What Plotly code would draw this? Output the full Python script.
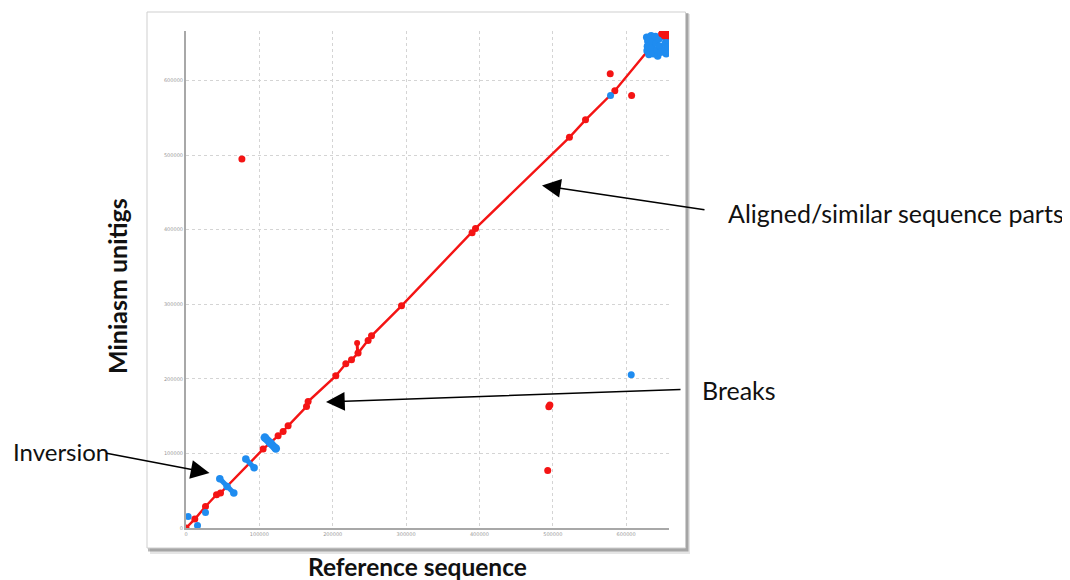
import plotly.graph_objects as go

# ---------------- data (bp coordinates) ----------------
# main red alignment (reference position vs unitig position)
red_x = [0, 12000, 26580, 41580, 47030, 105100, 125550, 132370, 139180, 164270,
         166450, 204210, 217840, 225610, 234610, 248240, 252870, 293770, 390000,
         394650, 522650, 544600, 584540, 648600]
red_y = [0, 11930, 28830, 44510, 46790, 105790, 123620, 129390, 137030, 162910,
         169610, 204070, 220160, 225520, 234510, 251400, 257700, 297920, 396000,
         401700, 523850, 547310, 586200, 662600]

# small red off-line piece
red_seg_x = [234000, 233250]
red_seg_y = [234510, 247910]

# isolated red matches
red_off_x = [76200, 494570, 496000, 493070, 578270, 607440]
red_off_y = [494620, 162500, 165000, 77100, 609120, 579890]

# red tip at the end of the diagonal
red_tip_x = [648600, 652000, 654000, 656800]
red_tip_y = [662600, 660000, 665300, 659900]

# blue (reverse) matches: inversions crossing the diagonal
blue_seg_x = [46080, 56030, 65160, None, 81520, 92830]
blue_seg_y = [65970, 55640, 46790, None, 92380, 80720]
blue_wide_x = [107420, 115000, 122420]
blue_wide_y = [121340, 114000, 106590]

# isolated blue matches
blue_pt_x = [2860, 15680, 26580, 578700, 606900]
blue_pt_y = [15420, 3350, 20780, 579900, 205410]

# blue cluster at the end of the sequences
blue_cl_x = [628000, 629500, 629000, 628500, 631000, 634000, 636000, 635000, 637000,
             640000, 641000, 642000, 643000, 645000, 646000, 647000,
             653000, 653500, 654000, 654500, 656500, 657000]
blue_cl_y = [658000, 653000, 646000, 640000, 635000, 660000, 652000, 644000, 636000,
             659000, 650000, 641000, 633000, 656000, 646000, 638000,
             658000, 650000, 642000, 636000, 655000, 645000]

x_ticks = [0, 100000, 200000, 300000, 400000, 500000, 600000]
y_ticks = [0, 100000, 200000, 300000, 400000, 500000, 600000]
x_tick_text = ["0", "100000", "200000", "300000", "400000", "500000", "600000"]
y_tick_text = ["0", "100000", "200000", "300000", "400000", "500000", "600000"]

RED = "#f41414"
BLUE = "#1f8cf0"

# ---------------- layout geometry ----------------
OFF = 8                      # page body margin in the browser
W_FIG, H_FIG = 1062, 572
L, T = 186 - OFF, 31 - OFF   # plot area top-left in figure pixels
PW, PH = 483, 497
R = W_FIG - L - PW
B = H_FIG - T - PH
X_MAX = PW / 73.36 * 1e5
Y_MAX = PH / 74.58 * 1e5


def px(xs):
    """screen x pixel -> paper x"""
    return (xs - OFF - L) / PW


def py(ys):
    """screen y pixel -> paper y"""
    return (T + PH - (ys - OFF)) / PH


fig = go.Figure()

fig.add_trace(go.Scatter(x=red_x, y=red_y, mode="lines+markers",
                         line=dict(color=RED, width=2.4),
                         marker=dict(color=RED, size=7), hoverinfo="skip"))
fig.add_trace(go.Scatter(x=red_seg_x, y=red_seg_y, mode="lines+markers",
                         line=dict(color=RED, width=3),
                         marker=dict(color=RED, size=6), hoverinfo="skip"))
fig.add_trace(go.Scatter(x=red_off_x, y=red_off_y, mode="markers",
                         marker=dict(color=RED, size=7), hoverinfo="skip"))
fig.add_trace(go.Scatter(x=blue_cl_x, y=blue_cl_y, mode="markers",
                         marker=dict(color=BLUE, size=7.5), hoverinfo="skip"))
fig.add_trace(go.Scatter(x=red_tip_x, y=red_tip_y, mode="markers",
                         marker=dict(color=RED, size=7), hoverinfo="skip"))
fig.add_trace(go.Scatter(x=blue_seg_x, y=blue_seg_y, mode="lines+markers",
                         line=dict(color=BLUE, width=5),
                         marker=dict(color=BLUE, size=7.5), hoverinfo="skip"))
fig.add_trace(go.Scatter(x=blue_wide_x, y=blue_wide_y, mode="lines+markers",
                         line=dict(color=BLUE, width=8),
                         marker=dict(color=BLUE, size=8.5), hoverinfo="skip"))
fig.add_trace(go.Scatter(x=blue_pt_x, y=blue_pt_y, mode="markers",
                         marker=dict(color=BLUE, size=7), hoverinfo="skip"))

# frame card with shadow
shapes = [
    dict(type="rect", xref="paper", yref="paper", layer="below",
         x0=px(150), x1=px(690), y0=py(14), y1=py(554),
         fillcolor="rgba(0,0,0,0.10)", line=dict(width=0)),
    dict(type="rect", xref="paper", yref="paper", layer="below",
         x0=px(148), x1=px(688.5), y0=py(13), y1=py(551.5),
         fillcolor="rgba(0,0,0,0.28)", line=dict(width=0)),
    dict(type="rect", xref="paper", yref="paper", layer="below",
         x0=px(147), x1=px(685.5), y0=py(12), y1=py(548),
         fillcolor="white", line=dict(color="#cfcfcf", width=1)),
]

FONT = "Lato, Carlito, Calibri, sans-serif"
annotations = [
    dict(text="Aligned/similar sequence parts", x=px(726), y=py(213), xref="paper", yref="paper",
         xanchor="left", yanchor="middle", showarrow=False, font=dict(family=FONT, size=25, color="#111")),
    dict(text="Breaks", x=px(700), y=py(390), xref="paper", yref="paper",
         xanchor="left", yanchor="middle", showarrow=False, font=dict(family=FONT, size=25, color="#111")),
    dict(text="Inversion", x=px(11), y=py(451), xref="paper", yref="paper",
         xanchor="left", yanchor="middle", showarrow=False, font=dict(family=FONT, size=24, color="#111")),
    dict(text="<b>Reference sequence</b>", x=px(417), y=py(566), xref="paper", yref="paper",
         xanchor="center", yanchor="middle", showarrow=False, font=dict(family=FONT, size=24.5, color="#111")),
    dict(text="<b>Miniasm unitigs</b>", x=px(117), y=py(286), xref="paper", yref="paper",
         xanchor="center", yanchor="middle", textangle=-90, showarrow=False,
         font=dict(family=FONT, size=25, color="#111")),
]

# arrows: (tail, head) in screen pixels
arrows = [((706, 210), (542, 185.5)), ((682, 389.5), (326, 402)), ((105, 453), (209.5, 473))]
for (tx, ty), (hx, hy) in arrows:
    annotations.append(dict(text="", x=px(hx), y=py(hy), xref="paper", yref="paper",
                            ax=tx - hx, ay=ty - hy, axref="pixel", ayref="pixel",
                            showarrow=True, arrowhead=2, arrowsize=2.5, arrowwidth=1.5,
                            arrowcolor="black", standoff=0, startstandoff=0))

fig.update_layout(
    width=W_FIG, height=H_FIG,
    margin=dict(l=L, r=R, t=T, b=B, pad=0),
    paper_bgcolor="white", plot_bgcolor="rgba(0,0,0,0)",
    showlegend=False,
    shapes=shapes, annotations=annotations,
    xaxis=dict(range=[0, X_MAX], tickvals=x_ticks, ticktext=x_tick_text,
               showgrid=True, gridcolor="#d4d4d4", griddash="dot", gridwidth=1,
               zeroline=False, showline=True, linecolor="#a8a8a8", linewidth=2,
               ticks="", tickfont=dict(size=5, color="#999999", family="DejaVu Sans"),
               fixedrange=True),
    yaxis=dict(range=[0, Y_MAX], tickvals=y_ticks, ticktext=y_tick_text,
               showgrid=True, gridcolor="#d4d4d4", griddash="dot", gridwidth=1,
               zeroline=False, showline=True, linecolor="#a8a8a8", linewidth=2,
               ticks="", tickfont=dict(size=5, color="#999999", family="DejaVu Sans"),
               fixedrange=True),
)

fig.write_html("out.html")
